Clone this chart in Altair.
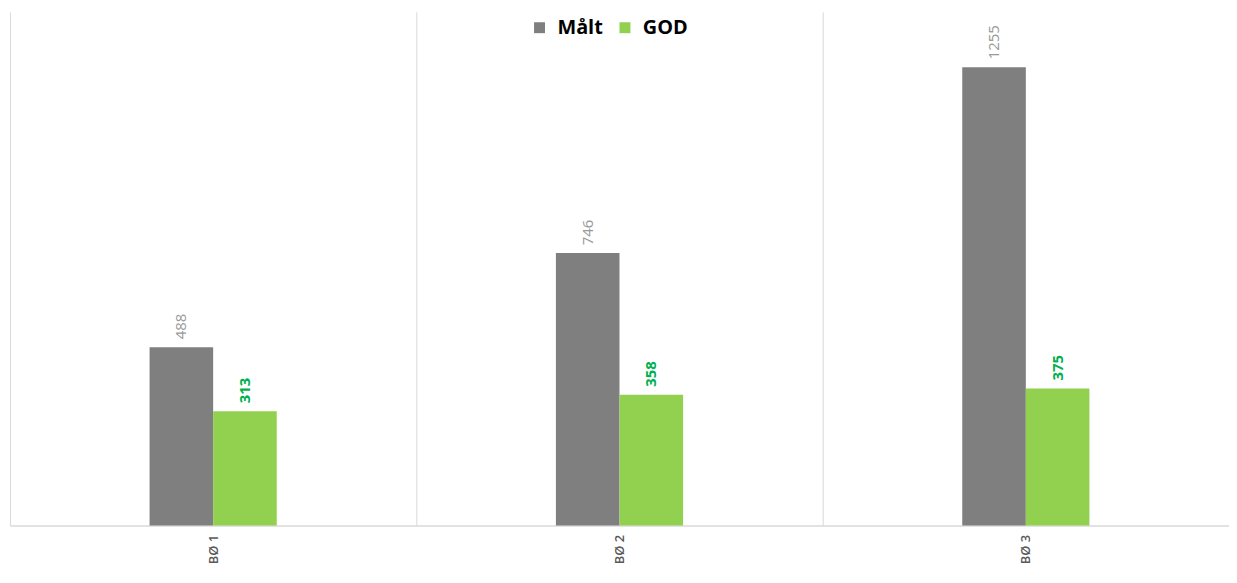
import altair as alt
import pandas as pd

categories = ["BØ 1", "BØ 2", "BØ 3"]
series_names = ["Målt", "GOD"]
malt_values = [488, 746, 1255]
god_values = [313, 358, 375]

rows = []
for c, m, g in zip(categories, malt_values, god_values):
    rows.append({"kategori": c, "serie": "Målt", "verdi": m})
    rows.append({"kategori": c, "serie": "GOD", "verdi": g})
df = pd.DataFrame(rows)

FONT = "Open Sans"
GRAY = "#7f7f7f"
GREEN = "#92d050"

x_enc = alt.X(
    "kategori:N",
    sort=categories,
    scale=alt.Scale(paddingInner=0, paddingOuter=0),
    axis=alt.Axis(
        title=None,
        labelAngle=270,
        labelColor="#595959",
        labelFont=FONT,
        labelFontSize=13,
        labelFontWeight=600,
        labelPadding=9,
        ticks=False,
        grid=True,
        gridColor="#d9d9d9",
        gridWidth=1,
        domainColor="#d9d9d9",
        domainWidth=1.5,
        tickBand="extent",
    ),
)
xo_enc = alt.XOffset(
    "serie:N",
    sort=series_names,
    scale=alt.Scale(domain=series_names, range=[140.5, 268.5], paddingInner=0, paddingOuter=0),
)
y_enc = alt.Y("verdi:Q", scale=alt.Scale(domain=[0, 1407], nice=False), axis=None)

bars = alt.Chart(df).mark_bar().encode(
    x=x_enc,
    xOffset=xo_enc,
    y=y_enc,
    color=alt.Color(
        "serie:N",
        sort=series_names,
        scale=alt.Scale(domain=series_names, range=[GRAY, GREEN]),
        legend=alt.Legend(
            title=None,
            orient="none",
            direction="horizontal",
            legendX=523,
            legendY=6,
            labelFont=FONT,
            labelFontSize=20,
            labelFontWeight="bold",
            labelColor="#000000",
            symbolType="square",
            symbolSize=121,
            symbolStrokeWidth=0,
            labelOffset=8,
            columnPadding=12,
        ),
    ),
)

txt_malt = alt.Chart(df).transform_filter(alt.datum.serie == "Målt").mark_text(
    angle=270, align="left", baseline="middle", dx=8, font=FONT, fontSize=15,
    color="#999999",
).encode(x=x_enc, xOffset=xo_enc, y=y_enc, text="verdi:Q")

txt_god = alt.Chart(df).transform_filter(alt.datum.serie == "GOD").mark_text(
    angle=270, align="left", baseline="middle", dx=8, font=FONT, fontSize=15,
    fontWeight="bold", color="#00b050",
).encode(x=x_enc, xOffset=xo_enc, y=y_enc, text="verdi:Q")

chart = (
    alt.layer(bars, txt_malt, txt_god)
    .properties(
        width=1227,
        height=517,
        autosize=alt.AutoSizeParams(type="none"),
        padding={"left": 2, "top": 2, "right": 0, "bottom": 42},
        background="white",
    )
    .configure_view(stroke=None)
)

chart.save("out.html", embed_options={"renderer": "svg", "actions": False})
